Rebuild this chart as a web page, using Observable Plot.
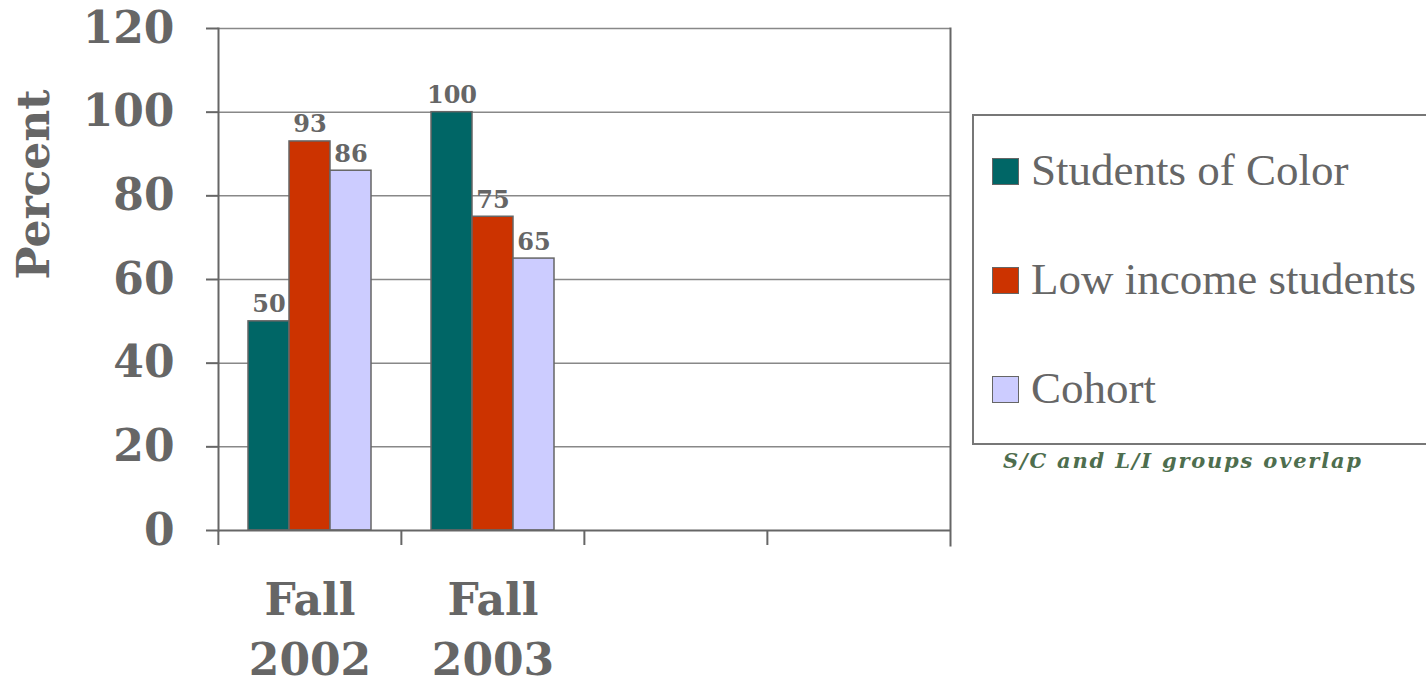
<!DOCTYPE html>
<html>
<head>
<meta charset="utf-8">
<script src="https://cdn.jsdelivr.net/npm/d3@7"></script>
<script src="https://cdn.jsdelivr.net/npm/@observablehq/plot@0.6"></script>
<style>
  html, body { margin: 0; padding: 0; background: #fff; overflow: hidden; }
  #chart { position: relative; width: 1426px; height: 687px; overflow: hidden; }
  #chart svg { position: absolute; left: 0; top: 0; }
  .legend {
    position: absolute; left: 972px; top: 114px; width: 470px; height: 331px;
    border: 2px solid #777; box-sizing: border-box; background: #fff;
  }
  .legend .item { position: absolute; left: 18px; height: 44px; white-space: nowrap; }
  .legend .swatch {
    position: absolute; left: 0; top: 10px; width: 27px; height: 27px;
    box-sizing: border-box; border: 1.5px solid #666;
  }
  .legend .label {
    position: absolute; left: 39px; top: 0;
    font-family: "Liberation Serif", serif; font-size: 45px; line-height: 44px; color: #666;
  }
  .note {
    position: absolute; left: 1003px; top: 450px; white-space: nowrap;
    font-family: "DejaVu Serif", serif; font-size: 21px; line-height: 21px; letter-spacing: 1.8px;
    font-weight: bold; font-style: italic; color: #4e6e4e;
  }
</style>
</head>
<body>
<div id="chart"></div>
<script>
// Share of students, by group and fall term
const series = ["Students of Color", "Low income students", "Cohort"];
const seriesColors = ["#006666", "#cc3300", "#ccccff"];
const periods = ["Fall 2002", "Fall 2003"];
const categorySlots = [...periods, "", " "]; // two unused slots on the category axis
const fall2002 = [50, 93, 86];
const fall2003 = [100, 75, 65];
const yTicks = [0, 20, 40, 60, 80, 100, 120];
const note = "S/C and L/I groups overlap";

const rows = [fall2002, fall2003].flatMap((values, i) =>
  values.map((value, j) => ({period: periods[i], series: series[j], value}))
);

const W = 1426, H = 687;
const mL = 217, mR = 476, mT = 28, mB = 157;
const slotWidth = (W - mL - mR) / categorySlots.length;
const grey = "#666";

const chart = Plot.plot({
  width: W, height: H,
  marginLeft: mL, marginRight: mR, marginTop: mT, marginBottom: mB,
  style: {fontFamily: "'DejaVu Serif', serif", color: grey, background: "transparent", overflow: "visible"},
  fx: {domain: categorySlots, padding: 0, axis: null},
  x: {domain: series, paddingInner: 0, paddingOuter: 0.72, axis: null},
  y: {domain: [0, 120], axis: null},
  color: {domain: series, range: seriesColors},
  marks: [
    Plot.ruleY(yTicks.slice(1), {stroke: "#888", strokeWidth: 1.5}),
    Plot.frame({anchor: "left", facet: "super", stroke: grey, strokeWidth: 2}),
    Plot.frame({anchor: "right", facet: "super", stroke: grey, strokeWidth: 2, insetBottom: -15}),
    // one boundary tick under the baseline at the left edge of every category slot
    Plot.ruleX(categorySlots, {
      fx: d => d, x: null, dx: -slotWidth / 2, stroke: grey, strokeWidth: 2,
      insetTop: H - mT - mB, insetBottom: -15
    }),
    Plot.barY(rows, {fx: "period", x: "series", y: "value", fill: "series", stroke: grey, strokeWidth: 1.5}),
    Plot.ruleY([0], {stroke: grey, strokeWidth: 2}),
    Plot.axisY({
      ticks: yTicks, tickSize: 12, tickPadding: 32, fontSize: 44, fontWeight: "bold",
      color: grey, strokeWidth: 2, label: null
    }),
    Plot.axisFx({
      anchor: "bottom", tickSize: 0, tickPadding: 41, fontSize: 44, fontWeight: "bold",
      lineHeight: 1.38, tickFormat: d => d.replace(" ", "\n"), label: null, color: grey
    }),
    Plot.text(rows, {
      fx: "period", x: "series", y: "value", text: d => String(d.value),
      lineAnchor: "bottom", dy: -9, fontSize: 24, fontWeight: "bold", fill: grey
    }),
    Plot.text(["Percent"], {
      frameAnchor: "left", rotate: -90, dx: -184, fontSize: 44, fontWeight: "bold",
      fill: grey, facet: "super"
    })
  ]
});

const root = document.getElementById("chart");
root.appendChild(chart);

// legend box
const legend = document.createElement("div");
legend.className = "legend";
const rowTops = [32, 141, 250];
series.forEach((name, i) => {
  const item = document.createElement("div");
  item.className = "item";
  item.style.top = rowTops[i] + "px";
  const sw = document.createElement("div");
  sw.className = "swatch";
  sw.style.background = seriesColors[i];
  const lab = document.createElement("div");
  lab.className = "label";
  lab.textContent = name;
  item.append(sw, lab);
  legend.appendChild(item);
});
root.appendChild(legend);

const noteEl = document.createElement("div");
noteEl.className = "note";
noteEl.textContent = note;
root.appendChild(noteEl);
</script>
</body>
</html>
